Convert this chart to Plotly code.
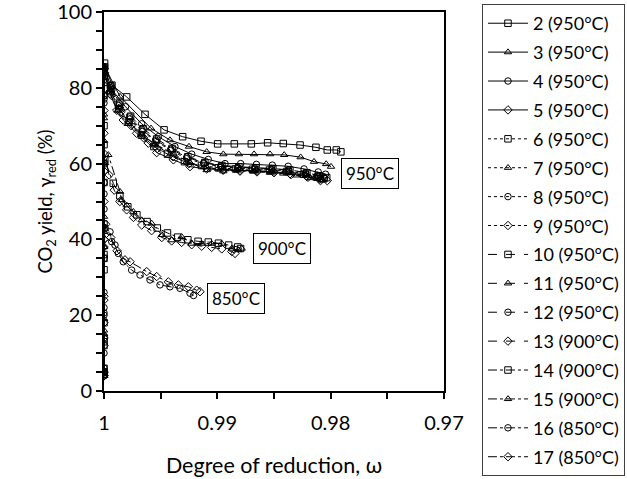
import plotly.graph_objects as go

# ---- data ----
names = ["2 (950°C)", "3 (950°C)", "4 (950°C)", "5 (950°C)", "6 (950°C)", "7 (950°C)",
         "8 (950°C)", "9 (950°C)", "10 (950°C)", "11 (950°C)", "12 (950°C)", "13 (900°C)",
         "14 (900°C)", "15 (900°C)", "16 (850°C)", "17 (850°C)"]

x2 = [1, 1, 1, 1, 1, 0.99995, 0.9993, 0.998, 0.99638, 0.9947, 0.99306, 0.99144, 0.98997, 0.9885, 0.987, 0.98556, 0.98418, 0.9827, 0.9813, 0.9803, 0.9795, 0.9791]
y2 = [4.5, 13, 32, 60, 78, 86.5, 80.7, 77.6, 73.0, 68.9, 67.1, 65.9, 65.2, 65.2, 65.2, 65.5, 65.3, 64.9, 64.3, 63.6, 63.6, 63.1]

x3 = [1, 1, 1, 1, 1, 0.99993, 0.99859, 0.99585, 0.99418, 0.9925, 0.99094, 0.98947, 0.9881, 0.98676, 0.98535, 0.9841, 0.98265, 0.98147, 0.9804, 0.97997]
y3 = [5, 16, 38, 66, 81, 85.5, 77.7, 69.3, 66.2, 64.5, 63.1, 62.5, 62.5, 62.5, 62.5, 62.3, 61.7, 60.5, 59.9, 59.2]

x4 = [1, 1, 1, 1, 0.99995, 0.9993, 0.9981, 0.99668, 0.9952, 0.99374, 0.99226, 0.9908, 0.98932, 0.98794, 0.98655, 0.98515, 0.98375, 0.98235, 0.9811, 0.98045]
y4 = [4, 20, 55, 77, 85, 79.5, 75, 70.5, 67.1, 64.5, 62.5, 61.1, 60.0, 60.0, 59.8, 59.6, 59.3, 58.6, 57.8, 57.2]

x5 = [1, 1, 1, 1, 0.99996, 0.99947, 0.99888, 0.9983, 0.99712, 0.99609, 0.99535, 0.99388, 0.99241, 0.99094, 0.98947, 0.988, 0.98653, 0.98506, 0.98359, 0.98212, 0.98095, 0.9803]
y5 = [5, 24, 50, 74, 84, 78.5, 74.1, 71.5, 68, 65.4, 62.9, 61, 59.2, 58.6, 58.3, 58.2, 58.1, 57.8, 57.3, 56.6, 55.9, 55.5]

x6 = [1, 1, 1, 1, 0.99997, 0.9994, 0.9987, 0.9978, 0.9967, 0.9956, 0.9944, 0.9929, 0.9914, 0.9899, 0.9884, 0.9869, 0.9854, 0.9839, 0.9824, 0.9812, 0.9806]
y6 = [6, 18, 44, 70, 84.5, 79, 74.5, 71, 67.5, 64.5, 62.5, 60.5, 59.5, 58.9, 58.6, 58.5, 58.3, 57.9, 57.2, 56.4, 56.0]

x7 = [1, 1, 1, 1, 0.99996, 0.9995, 0.9988, 0.9979, 0.99668, 0.9955, 0.99388, 0.9924, 0.99094, 0.98947, 0.98829, 0.98682, 0.98535, 0.98418, 0.983, 0.9818, 0.9808]
y7 = [4, 15, 42, 72, 83.5, 79, 74, 70.5, 67.5, 65.2, 62.7, 60.2, 58.3, 58.0, 58.3, 57.9, 57.6, 57.4, 56.9, 56.2, 55.6]

x8 = [1, 1, 1, 1, 0.99995, 0.99945, 0.9987, 0.9977, 0.9966, 0.9954, 0.9941, 0.9927, 0.9912, 0.9897, 0.9882, 0.9867, 0.9852, 0.9837, 0.9822, 0.9811, 0.98055]
y8 = [5, 22, 48, 76, 85, 80, 75.3, 71.8, 68.5, 65.8, 63.5, 61.3, 60.0, 59.2, 58.8, 58.6, 58.4, 58.0, 57.3, 56.6, 56.2]

x9 = [1, 1, 1, 1, 0.99996, 0.99935, 0.99855, 0.9976, 0.9965, 0.9953, 0.9939, 0.9925, 0.991, 0.9895, 0.988, 0.9865, 0.985, 0.9835, 0.982, 0.9809]
y9 = [4, 12, 40, 68, 83, 78, 73.5, 70, 66.8, 64.0, 61.8, 60.0, 58.9, 58.3, 58.0, 57.8, 57.6, 57.1, 56.4, 55.5]

x10 = [1, 1, 1, 1, 0.99995, 0.9994, 0.9986, 0.99765, 0.99655, 0.99535, 0.994, 0.9926, 0.9911, 0.9896, 0.9881, 0.9866, 0.9851, 0.9836, 0.9821, 0.981, 0.98035]
y10 = [5, 14, 36, 65, 85.5, 80.5, 76, 72.5, 69.2, 66.5, 64.0, 61.8, 60.3, 59.5, 59.1, 58.9, 58.7, 58.3, 57.6, 56.8, 56.3]

x11 = [1, 1, 1, 1, 0.99996, 0.9995, 0.9987, 0.9978, 0.9967, 0.9955, 0.99415, 0.9927, 0.9912, 0.9897, 0.9882, 0.9867, 0.9852, 0.9837, 0.9822, 0.98125, 0.9807]
y11 = [4, 19, 46, 73, 84, 79.5, 74.8, 71.0, 67.8, 64.9, 62.5, 60.5, 59.1, 58.5, 58.2, 58.1, 57.9, 57.5, 56.9, 56.1, 55.7]

x12 = [1, 1, 1, 1, 0.99995, 0.99945, 0.99865, 0.99775, 0.99665, 0.99545, 0.9941, 0.9927, 0.9912, 0.9897, 0.9882, 0.9867, 0.9852, 0.9837, 0.9822, 0.98115, 0.98065]
y12 = [6, 26, 52, 78, 85.5, 80.5, 75.8, 72.3, 68.9, 66.2, 63.8, 61.7, 60.2, 59.4, 59.0, 58.9, 58.7, 58.3, 57.6, 56.9, 56.5]

x13 = [1, 1, 1, 1, 0.99996, 0.99955, 0.9991, 0.9986, 0.998, 0.9974, 0.99667, 0.9958, 0.9949, 0.99403, 0.99315, 0.99226, 0.99138, 0.9905, 0.98961, 0.98873, 0.98844]
y13 = [4, 18, 40, 58, 62.5, 57, 53, 50, 47.8, 45.8, 43.8, 42.3, 40.5, 39.6, 39.2, 38.6, 38.2, 37.9, 37.5, 36.8, 36.3]

x14 = [1, 1, 1, 1, 0.99993, 0.99918, 0.9986, 0.9979, 0.9971, 0.9962, 0.9953, 0.9944, 0.9935, 0.9926, 0.9917, 0.9908, 0.9899, 0.989, 0.9882, 0.98795]
y14 = [5, 12, 35, 55, 61, 54.8, 51.5, 48.6, 46.5, 44.7, 43.0, 41.7, 40.6, 39.9, 39.5, 39.3, 39.0, 38.5, 38.0, 37.6]

x15 = [1, 1, 1, 1, 0.99991, 0.99962, 0.99859, 0.99844, 0.998, 0.99741, 0.99667, 0.99579, 0.9949, 0.99403, 0.99315, 0.99226, 0.99138, 0.9905, 0.98961, 0.98873, 0.98815, 0.98785]
y15 = [4, 15, 38, 60, 60.2, 62.3, 52.6, 50.4, 49, 47.3, 45.1, 44.2, 41.2, 39.8, 40.7, 38.9, 38.9, 38.9, 38.9, 37.6, 37.2, 37.6]

x16 = [1, 1, 1, 1, 0.9999, 0.99947, 0.99932, 0.99903, 0.99874, 0.9983, 0.99756, 0.99682, 0.99594, 0.99506, 0.99418, 0.9933, 0.99241, 0.9921]
y16 = [4, 10, 20.6, 35, 43, 42, 39.4, 38.5, 36.3, 34.1, 31.9, 30.6, 29.3, 28.0, 27.5, 27.1, 25.8, 25.2]

x17 = [1, 1, 1, 1, 0.99985, 0.9994, 0.99885, 0.99815, 0.9977, 0.99623, 0.99535, 0.99432, 0.99344, 0.99256, 0.99182, 0.99153]
y17 = [5, 14, 25, 38, 44, 40.5, 37, 34.6, 34.1, 31.5, 30.2, 28.8, 28.0, 27.5, 26.6, 26.2]

xs = [x2, x3, x4, x5, x6, x7, x8, x9, x10, x11, x12, x13, x14, x15, x16, x17]
ys = [y2, y3, y4, y5, y6, y7, y8, y9, y10, y11, y12, y13, y14, y15, y16, y17]

symbols = ["square-open", "triangle-up-open", "circle-open", "diamond-open",
           "square-open", "triangle-up-open", "circle-open", "diamond-open",
           "square-open", "triangle-up-open", "circle-open", "diamond-open",
           "square-open", "triangle-up-open", "circle-open", "diamond-open"]
dashes = ["solid"] * 4 + ["dot"] * 4 + ["dash"] * 4 + ["dashdot"] * 4

x_tickvals = [1.0, 0.99, 0.98, 0.97]
x_ticktext = ["1", "0.99", "0.98", "0.97"]
y_tickvals = [0, 20, 40, 60, 80, 100]

labels = ["950°C", "900°C", "850°C"]
label_x = [0.97653, 0.98429, 0.98835]
label_y = [57.3, 37.5, 24.5]

FONT = "Lato"

fig = go.Figure()
for i in range(len(names)):
    fig.add_trace(go.Scatter(
        x=xs[i], y=ys[i], name=names[i], mode="lines+markers",
        legendgroup=str(i),
        line=dict(color="black", width=1, dash=dashes[i]),
        marker=dict(symbol=symbols[i], size=6.5, color="black", line=dict(width=1, color="black")),
    ))

for t, lx, ly in zip(labels, label_x, label_y):
    fig.add_annotation(x=lx, y=ly, text=t, showarrow=False,
                       font=dict(family=FONT, size=17, color="black"),
                       bordercolor="black", borderwidth=1, borderpad=4,
                       bgcolor="white")

fig.update_layout(
    width=627, height=479,
    margin=dict(l=104, r=183, t=12, b=88, autoexpand=False),
    paper_bgcolor="white", plot_bgcolor="white",
    font=dict(family=FONT, size=20, color="black"),
    showlegend=True,
    legend=dict(xref="container", yref="container", x=0.7687, y=0.9916,
                xanchor="left", yanchor="top", maxheight=479,
                bordercolor="#404040", borderwidth=1, bgcolor="white",
                font=dict(family=FONT, size=18, color="black"),
                tracegroupgap=2.5, traceorder="grouped", itemwidth=40),
    xaxis=dict(range=[1.0, 0.97], tickvals=x_tickvals, ticktext=x_ticktext,
               automargin=True,
               showline=True, linecolor="black", linewidth=2, mirror=True,
               ticks="outside", ticklen=6, tickwidth=1.5, tickcolor="black",
               minor=dict(dtick=0.005, ticks="outside", ticklen=6, tickwidth=1.5, tickcolor="black"),
               showgrid=False, zeroline=False, ticklabelstandoff=7,
               tickfont=dict(size=20),
               title=dict(text="Degree of reduction, ω", standoff=25, font=dict(size=21.5))),
    yaxis=dict(range=[0, 100], tickvals=y_tickvals,
               automargin=True, ticklabeloverflow="allow",
               showline=True, linecolor="black", linewidth=2, mirror=True,
               ticks="outside", ticklen=6, tickwidth=1.5, tickcolor="black",
               minor=dict(dtick=5, ticks="outside", ticklen=6, tickwidth=1.5, tickcolor="black"),
               showgrid=False, zeroline=False, tickfont=dict(size=20),
               title=dict(text="CO<sub>2</sub> yield, γ<sub>red</sub> (%)", standoff=0, font=dict(size=18.5))),
)

# remove the default 8px page margin so the figure fills the window exactly
fig.write_html("out.html", config={"displayModeBar": False},
               post_script="document.body.style.margin='0';")
